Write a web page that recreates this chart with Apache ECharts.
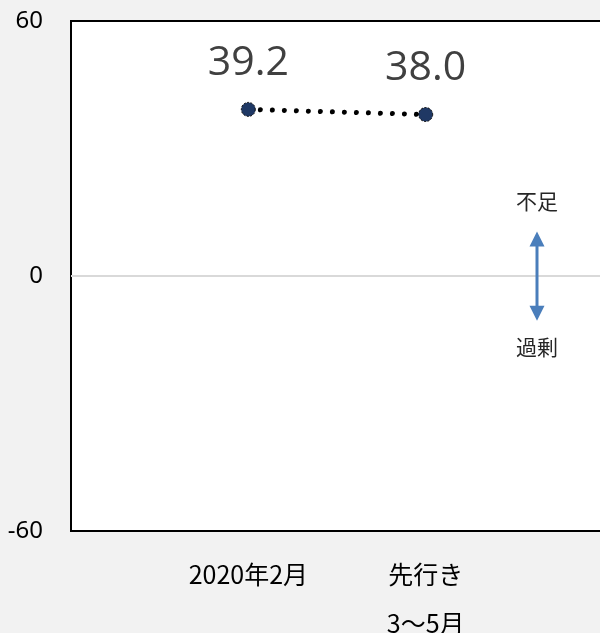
<!DOCTYPE html>
<html>
<head>
<meta charset="utf-8">
<script src="https://cdn.jsdelivr.net/npm/echarts@6/dist/echarts.min.js"></script>
<style>
  html, body { margin: 0; padding: 0; background: #f2f2f2; }
  #chart { width: 600px; height: 633px; }
</style>
</head>
<body>
<div id="chart"></div>
<script>
// Categories (blank slots pad the axis on both sides)
const categories = ['', '2020年2月', '先行き\n3～5月', ''];
// DI values (不足 − 過剰)
const diValues = [null, 39.2, 38.0, null];
// Y-axis range and tick step
const yMin = -60;
const yMax = 60;
const yStep = 60;
// Annotation texts and the value span of the double arrow
const upperNote = '不足';
const lowerNote = '過剰';
const arrowSpan = [10.5, -10.5];

const cjkFont = '"Noto Sans CJK JP", "Noto Sans", sans-serif';

const chart = echarts.init(document.getElementById('chart'), null, { renderer: 'canvas' });

chart.setOption({
  backgroundColor: '#f2f2f2',
  animation: false,
  grid: {
    left: 71,
    top: 21,
    right: -3,
    bottom: 102,
    containLabel: false,
    outerBoundsMode: 'none',
    show: true,
    backgroundColor: '#ffffff',
    borderColor: '#000000',
    borderWidth: 2
  },
  xAxis: {
    type: 'category',
    data: categories,
    boundaryGap: false,
    axisLine: { show: false },
    axisTick: { show: false },
    splitLine: { show: false },
    axisLabel: {
      interval: 0,
      margin: 19,
      color: '#000000',
      fontSize: 25,
      lineHeight: 49,
      fontFamily: cjkFont,
      verticalAlign: 'top'
    }
  },
  yAxis: {
    type: 'value',
    min: yMin,
    max: yMax,
    interval: yStep,
    axisLine: { show: false },
    axisTick: { show: false },
    splitLine: { show: false },
    axisLabel: {
      margin: 28,
      color: '#000000',
      fontSize: 24,
      fontFamily: '"Noto Sans", sans-serif'
    }
  },
  series: [
    {
      type: 'line',
      data: diValues,
      connectNulls: false,
      symbol: 'circle',
      symbolSize: 14,
      itemStyle: {
        color: '#1f3864',
        borderColor: '#000000',
        borderWidth: 1,
        borderType: [2, 1.5]
      },
      lineStyle: {
        color: '#000000',
        width: 5,
        type: [0.01, 12],
        cap: 'round'
      },
      label: {
        show: true,
        position: 'top',
        distance: 18,
        color: '#404040',
        fontSize: 41,
        fontFamily: '"Open Sans", "Noto Sans", sans-serif',
        formatter: p => p.value.toFixed(1)
      },
      markLine: {
        silent: true,
        symbol: 'none',
        label: { show: false },
        lineStyle: { color: '#d9d9d9', width: 2, type: 'solid' },
        data: [{ yAxis: 0 }],
        z: 1
      },
      z: 3
    }
  ]
});

// Double arrow with its notes, placed in data space between the 2nd and 3rd slots
function drawArrow() {
  const x0 = chart.convertToPixel({ xAxisIndex: 0 }, 2);
  const x1 = chart.convertToPixel({ xAxisIndex: 0 }, 3);
  const ax = Math.round(x0 + (x1 - x0) * 0.63);
  const yTop = chart.convertToPixel({ yAxisIndex: 0 }, arrowSpan[0]);
  const yBot = chart.convertToPixel({ yAxisIndex: 0 }, arrowSpan[1]);
  const head = 15;
  const half = 7.5;
  const blue = '#4a7ebb';
  chart.setOption({
    graphic: [
      {
        type: 'line',
        shape: { x1: ax, y1: yTop + head - 1, x2: ax, y2: yBot - head + 1 },
        style: { stroke: blue, lineWidth: 3 },
        z: 10
      },
      {
        type: 'polygon',
        shape: { points: [[ax, yTop], [ax - half, yTop + head], [ax + half, yTop + head]] },
        style: { fill: blue },
        z: 10
      },
      {
        type: 'polygon',
        shape: { points: [[ax, yBot], [ax - half, yBot - head], [ax + half, yBot - head]] },
        style: { fill: blue },
        z: 10
      },
      {
        type: 'text',
        x: ax,
        y: yTop - 30,
        style: {
          text: upperNote,
          fill: '#262626',
          font: '21px ' + cjkFont,
          align: 'center',
          verticalAlign: 'middle'
        },
        z: 10
      },
      {
        type: 'text',
        x: ax,
        y: yBot + 26,
        style: {
          text: lowerNote,
          fill: '#262626',
          font: '21px ' + cjkFont,
          align: 'center',
          verticalAlign: 'middle'
        },
        z: 10
      }
    ]
  });
}
drawArrow();
</script>
</body>
</html>
